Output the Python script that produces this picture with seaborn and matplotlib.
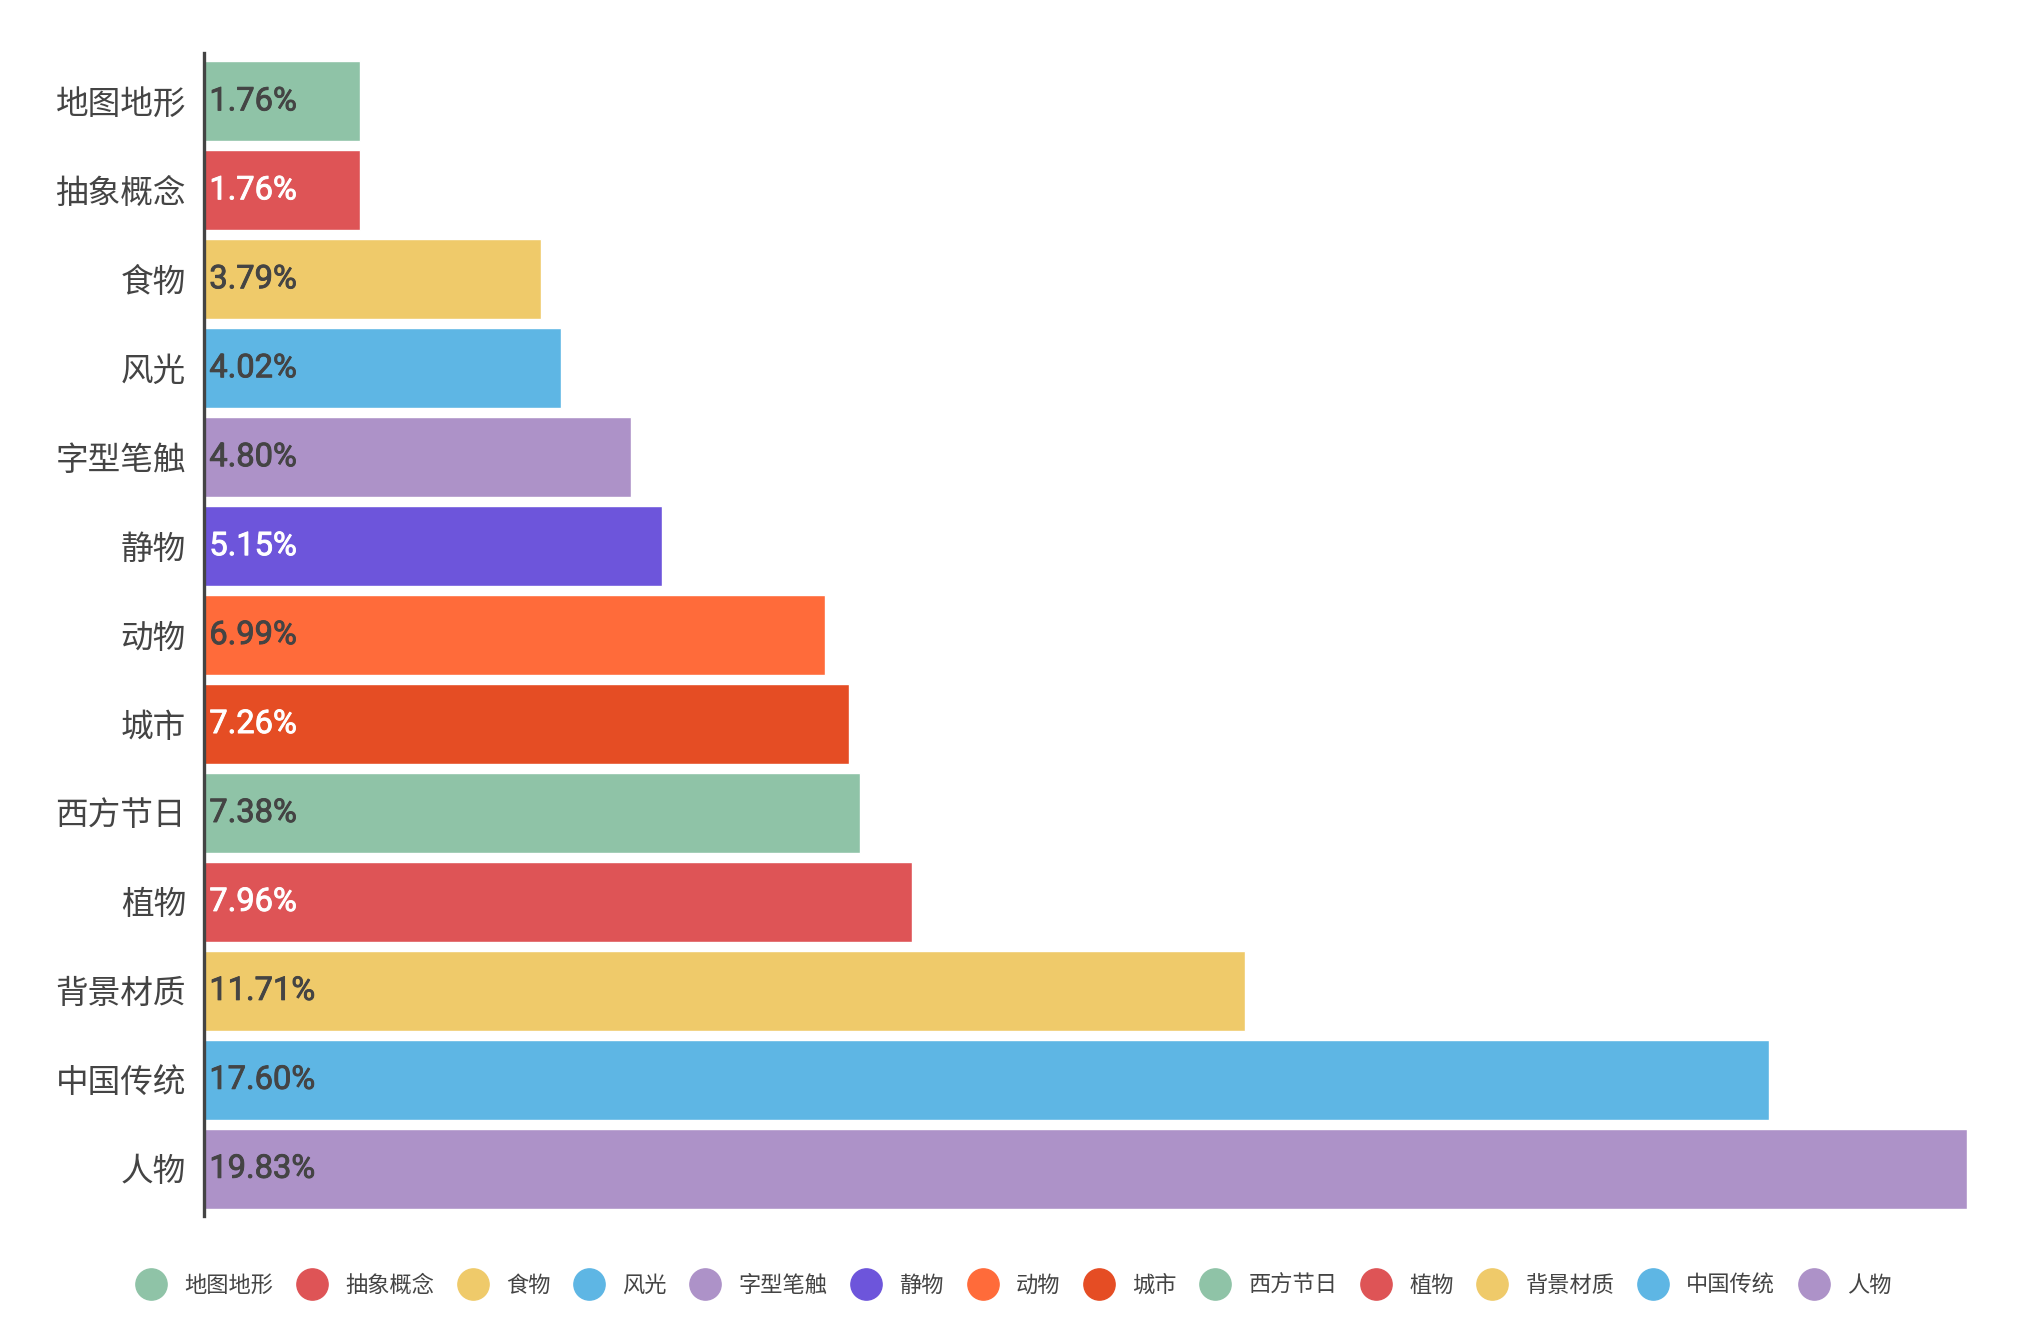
import matplotlib
matplotlib.use("Agg")
import matplotlib.pyplot as plt
import matplotlib.patheffects as pe
from matplotlib.lines import Line2D
import pandas as pd
import seaborn as sns

# Category share data, top to bottom
categories = ['地图地形', '抽象概念', '食物', '风光', '字型笔触', '静物', '动物',
              '城市', '西方节日', '植物', '背景材质', '中国传统', '人物']
shares = [1.76, 1.76, 3.79, 4.02, 4.80, 5.15, 6.99, 7.26, 7.38, 7.96, 11.71, 17.60, 19.83]
colors = ['#8FC3A7', '#DE5456', '#EFCA6A', '#5EB6E4', '#AD92C8', '#6D55DB', '#FF6B3A',
          '#E54D24', '#8FC3A7', '#DE5456', '#EFCA6A', '#5EB6E4', '#AD92C8']
label_colors = ['#444444', '#FFFFFF', '#444444', '#444444', '#444444', '#FFFFFF', '#444444',
                '#FFFFFF', '#444444', '#FFFFFF', '#444444', '#444444', '#444444']

df = pd.DataFrame({'category': categories, 'share': shares})

sns.set_style('white')
plt.rcParams['font.family'] = ['Noto Sans CJK SC', 'DejaVu Sans']

fig = plt.figure(figsize=(20.44, 13.34), dpi=100)
ax = fig.add_axes([0.0998, 0.0885, 0.8625, 0.8715])

sns.barplot(data=df, x='share', y='category', hue='category', palette=colors,
            orient='h', width=0.9, legend=False, saturation=1, ax=ax)

ax.set_xlim(0, 19.83)
ax.set_ylim(len(categories) - 0.47, -0.54)
ax.set_xlabel('')
ax.set_ylabel('')
ax.set_xticks([])
for side in ['top', 'right', 'bottom']:
    ax.spines[side].set_visible(False)
ax.spines['left'].set_color('#444444')
ax.spines['left'].set_linewidth(2.4)
ax.tick_params(axis='y', length=0, pad=13, labelsize=23.5, labelcolor='#444444')

# value labels inside the bars (regular face thickened a little)
for i, (v, c) in enumerate(zip(shares, label_colors)):
    ax.text(0.06, i, f'{v:.2f}%', va='center', ha='left', color=c,
            fontsize=23.5, family=['Roboto', 'DejaVu Sans'],
            path_effects=[pe.withStroke(linewidth=0.65, foreground=c)])

handles = [Line2D([0], [0], marker='o', linestyle='', markersize=22.5,
                  markerfacecolor=c, markeredgecolor=c) for c in colors]
fig.legend(handles, categories, loc='center', bbox_to_anchor=(0.497, 0.0365),
           ncol=len(categories), frameon=False, fontsize=16, labelcolor='#444444',
           handletextpad=1.0, columnspacing=1.23, handlelength=1.0)

fig.savefig('out.png', dpi=100)
